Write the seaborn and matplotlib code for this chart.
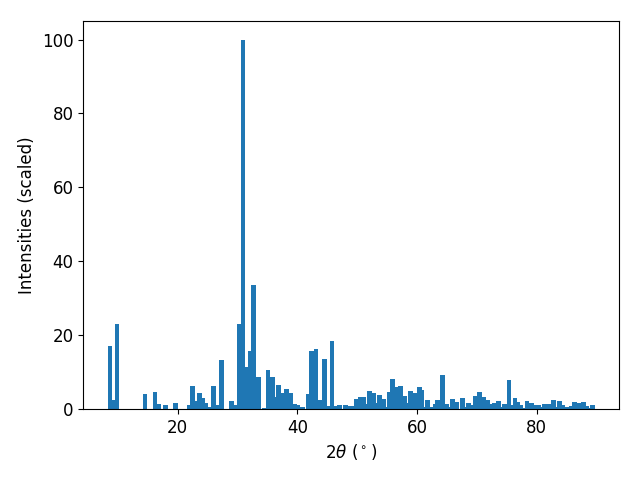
import numpy as np
import matplotlib
matplotlib.use("Agg")
import matplotlib.pyplot as plt
import seaborn as sns

plt.rcParams['font.family'] = ['DejaVu Sans']
plt.rcParams['font.size'] = 12

# peak positions (2theta, degrees)
two_theta = [8.65, 9.2, 9.83, 14.5, 16.2, 16.8, 17.9, 19.6, 21.9, 22.4,
             23.0, 23.6, 24.2, 24.7, 25.3, 26.0, 26.6, 27.3, 29.0, 29.6,
             30.3, 30.9, 31.5, 32.2, 32.7, 33.5, 34.5, 35.1, 35.9, 36.2,
             36.6, 36.9, 37.5, 38.2, 38.9, 39.5, 40.1, 40.9, 41.8, 42.4,
             43.1, 43.9, 44.6, 45.2, 45.8, 46.4, 47.0, 48.1, 48.7, 49.3,
             49.9, 50.5, 51.0, 51.5, 52.0, 52.7, 53.2, 53.7, 54.5, 55.0,
             55.4, 55.9, 56.4, 57.2, 57.9, 58.4, 58.9, 59.6, 60.4, 60.8,
             61.2, 61.7, 62.2, 62.5, 63.0, 63.5, 64.3, 64.9, 65.3, 66.0,
             66.6, 67.6, 68.1, 68.6, 69.2, 69.8, 70.5, 71.2, 71.8, 72.4,
             73.0, 73.7, 74.2, 74.7, 75.4, 75.9, 76.4, 76.9, 77.3, 77.8,
             78.4, 79.2, 79.6, 80.0, 80.4, 80.9, 81.3, 82.0, 82.8, 83.3,
             83.8, 84.3, 85.0, 85.5, 85.9, 86.4, 87.1, 87.8, 88.3, 88.7,
             89.3]
# scaled intensities
intensity = [17.1, 2.4, 23.1, 4.1, 4.6, 1.4, 1.1, 1.6, 1.1, 6.2,
             2.2, 4.3, 3.0, 1.6, 0.5, 6.2, 1.1, 13.3, 2.2, 1.1,
             23.1, 100.0, 11.4, 15.8, 33.5, 8.7, 0.3, 10.6, 8.6, 0.5,
             3.3, 6.5, 4.3, 5.4, 4.3, 1.4, 1.1, 0.5, 4.1, 15.8,
             16.3, 2.4, 13.6, 0.8, 18.5, 0.8, 1.1, 1.1, 0.8, 0.8,
             2.7, 3.3, 3.3, 1.4, 4.9, 4.3, 1.6, 3.8, 2.7, 0.5,
             4.6, 8.2, 6.0, 6.2, 3.5, 1.6, 4.9, 4.3, 6.0, 5.2,
             0.5, 2.4, 0.3, 0.5, 1.4, 2.4, 9.2, 1.4, 0.5, 2.7,
             1.9, 3.0, 0.5, 1.6, 1.1, 3.5, 4.6, 3.3, 2.4, 1.4,
             1.6, 2.2, 0.5, 1.4, 7.9, 1.1, 3.0, 1.9, 1.1, 0.3,
             2.2, 1.6, 1.1, 0.5, 1.1, 0.5, 1.4, 1.4, 2.4, 0.5,
             2.2, 1.1, 0.5, 0.5, 0.8, 1.9, 1.6, 1.9, 0.8, 0.3,
             1.1]
x_ticks = [20, 40, 60, 80]

x = np.array(two_theta)
y = np.array(intensity)
# draw small peaks first so the tall ones stay on top
order = np.argsort(y, kind="stable")

fig, ax = plt.subplots(figsize=(6.4, 4.8), dpi=100)
ax.bar(x[order], y[order], width=0.8, color=sns.color_palette("tab10")[0],
       linewidth=0)
ax.set_xticks(x_ticks)
ax.set_xlabel(r'$2\theta$ ($^\circ$)')
ax.set_ylabel('Intensities (scaled)')
fig.subplots_adjust(left=0.13, right=0.967, top=0.956, bottom=0.148)
fig.savefig("out.png")
